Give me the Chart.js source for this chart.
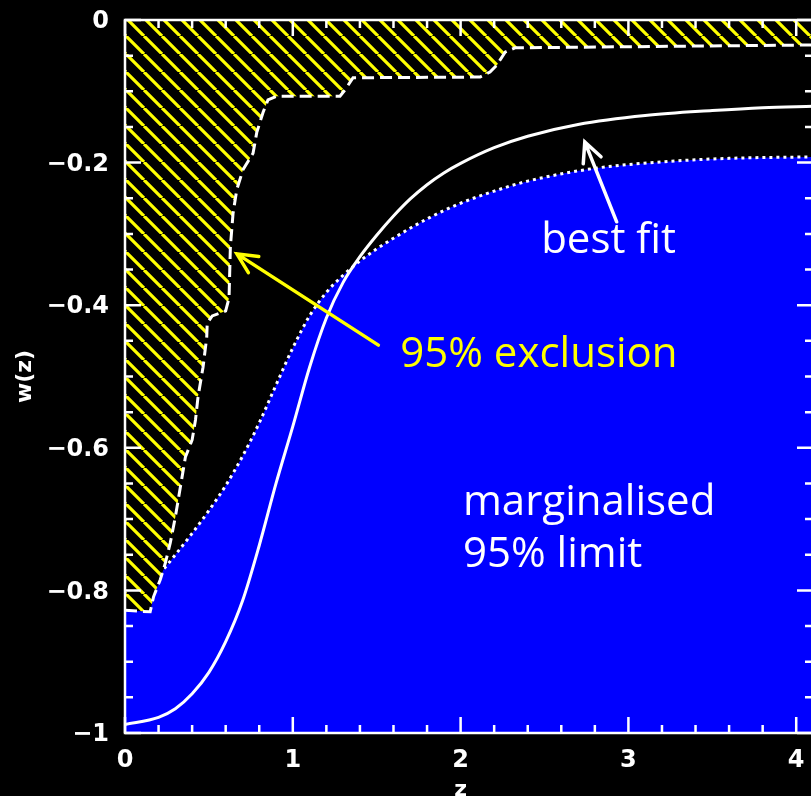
<!DOCTYPE html>
<html>
<head>
  <title>w(z)</title>
  <script src="https://cdn.jsdelivr.net/npm/chart.js@4.4.1/dist/chart.umd.min.js"></script>
  <style>
    html, body { margin: 0; padding: 0; background: #000; overflow: hidden; }
  </style>
</head>
<body>
  <canvas id="wz" width="813" height="796"></canvas>
  <script>
    // best fit w(z), solid white
    const fitZ = [0, 0.2, 0.3, 0.4, 0.5, 0.6, 0.7, 0.8, 0.9, 1.0, 1.1, 1.2, 1.3, 1.4, 1.5, 1.6, 1.7, 1.8, 1.9, 2.0, 2.2, 2.4, 2.7, 3.1, 3.5, 3.8, 4.1];
    const fitW = [-0.988, -0.978, -0.966, -0.945, -0.915, -0.872, -0.815, -0.737, -0.650, -0.570, -0.487, -0.418, -0.368, -0.332, -0.302, -0.275, -0.251, -0.231, -0.2145, -0.201, -0.179, -0.163, -0.1465, -0.134, -0.127, -0.123, -0.121];

    // marginalised 95% limit, dotted, blue below
    const margZ = [0, 0.1, 0.2, 0.3, 0.4, 0.5, 0.6, 0.7, 0.8, 0.9, 1.0, 1.1, 1.2, 1.3, 1.4, 1.5, 1.6, 1.8, 2.0, 2.2, 2.4, 2.8, 3.2, 3.6, 4.1];
    const margW = [-0.825, -0.805, -0.779, -0.750, -0.720, -0.688, -0.653, -0.612, -0.565, -0.512, -0.460, -0.415, -0.382, -0.358, -0.338, -0.321, -0.306, -0.279, -0.257, -0.240, -0.226, -0.208, -0.199, -0.194, -0.192];

    // 95% exclusion, dashed, hatched above
    const exclZ = [0, 0.15, 0.17, 0.21, 0.24, 0.27, 0.30, 0.33, 0.36, 0.40, 0.42, 0.435, 0.465, 0.487, 0.49, 0.52, 0.60, 0.62, 0.628, 0.644, 0.666, 0.703, 0.763, 0.785, 0.822, 0.852, 0.904, 1.281, 1.311, 1.359, 2.116, 2.175, 2.217, 2.265, 2.324, 4.1];
    const exclW = [-0.828, -0.830, -0.809, -0.785, -0.762, -0.733, -0.697, -0.655, -0.613, -0.589, -0.561, -0.529, -0.487, -0.445, -0.425, -0.415, -0.408, -0.390, -0.318, -0.271, -0.238, -0.210, -0.187, -0.158, -0.130, -0.112, -0.107, -0.107, -0.098, -0.081, -0.080, -0.073, -0.063, -0.045, -0.039, -0.035];

    const xTicks = [0, 1, 2, 3, 4];
    const xTickLabels = ['0', '1', '2', '3', '4'];
    const yTicks = [0, -0.2, -0.4, -0.6, -0.8, -1];
    const yTickLabels = ['0', '\u22120.2', '\u22120.4', '\u22120.6', '\u22120.8', '\u22121'];
    const xMinorStep = 0.2;
    const yMinorStep = 0.05;

    // text notes and arrows, in data units
    const notes = [
      { text: 'best fit', z: 2.48, w: -0.327, color: '#ffffff' },
      { text: '95% exclusion', z: 1.64, w: -0.487, color: '#ffff00' },
      { text: 'marginalised', z: 2.014, w: -0.694, color: '#ffffff' },
      { text: '95% limit', z: 2.014, w: -0.767, color: '#ffffff' },
    ];
    const arrows = [
      { from: [2.93, -0.283], to: [2.74, -0.171], color: '#ffffff' },
      { from: [1.51, -0.456], to: [0.667, -0.328], color: '#ffff00' },
    ];

    function pts(xs, ys) {
      return xs.map((x, i) => ({ x: x, y: ys[i] }));
    }

    function hatchPattern() {
      const d = 18;
      const c = document.createElement('canvas');
      c.width = d;
      c.height = d;
      const g = c.getContext('2d');
      g.fillStyle = '#000000';
      g.fillRect(0, 0, d, d);
      g.strokeStyle = '#ffff00';
      g.lineWidth = 3.2;
      g.beginPath();
      for (const o of [-d, 0, d]) {
        g.moveTo(o, 0);
        g.lineTo(o + d, d);
      }
      g.stroke();
      return g.createPattern(c, 'repeat');
    }

    const framePlugin = {
      id: 'frame',
      afterDatasetsDraw(chart) {
        const ctx = chart.ctx;
        const a = chart.chartArea;
        const xs = chart.scales.x;
        const ys = chart.scales.y;
        ctx.save();

        // ticks inside the box, all four sides
        ctx.strokeStyle = '#ffffff';
        ctx.lineWidth = 2.5;
        ctx.beginPath();
        for (let v = xs.min; v <= xs.max + 1e-9; v += xMinorStep) {
          const px = xs.getPixelForValue(v);
          const major = Math.abs(v - Math.round(v)) < 1e-6;
          const len = major ? 16 : 8;
          ctx.moveTo(px, a.bottom); ctx.lineTo(px, a.bottom - len);
          ctx.moveTo(px, a.top); ctx.lineTo(px, a.top + len);
        }
        for (let v = ys.min; v <= ys.max + 1e-9; v += yMinorStep) {
          const py = ys.getPixelForValue(v);
          const major = Math.abs(v / 0.2 - Math.round(v / 0.2)) < 1e-6;
          const len = major ? 16 : 8;
          ctx.moveTo(a.left, py); ctx.lineTo(a.left + len, py);
          ctx.moveTo(a.right, py); ctx.lineTo(a.right - len, py);
        }
        ctx.stroke();
        ctx.strokeRect(a.left, a.top, a.right - a.left, a.bottom - a.top);

        // tick labels
        ctx.fillStyle = '#ffffff';
        ctx.font = 'bold 24px "DejaVu Sans"';
        ctx.textAlign = 'right';
        ctx.textBaseline = 'middle';
        yTicks.forEach((v, i) => {
          ctx.fillText(yTickLabels[i], a.left - 16, ys.getPixelForValue(v) + 2);
        });
        ctx.textAlign = 'center';
        ctx.textBaseline = 'top';
        xTicks.forEach((v, i) => {
          ctx.fillText(xTickLabels[i], xs.getPixelForValue(v), a.bottom + 16);
        });

        // axis titles
        ctx.font = 'bold 22px "DejaVu Sans"';
        ctx.textBaseline = 'middle';
        ctx.fillText('z', xs.getPixelForValue(2), 790);
        ctx.save();
        ctx.translate(25, (a.top + a.bottom) / 2);
        ctx.rotate(-Math.PI / 2);
        ctx.fillText('w(z)', 0, 0);
        ctx.restore();

        // arrows
        ctx.lineWidth = 3.5;
        ctx.lineCap = 'round';
        arrows.forEach(ar => {
          const x0 = xs.getPixelForValue(ar.from[0]), y0 = ys.getPixelForValue(ar.from[1]);
          const x1 = xs.getPixelForValue(ar.to[0]), y1 = ys.getPixelForValue(ar.to[1]);
          const ang = Math.atan2(y0 - y1, x0 - x1);
          const hl = 22, spread = 0.45;
          ctx.strokeStyle = ar.color;
          ctx.beginPath();
          ctx.moveTo(x0, y0); ctx.lineTo(x1, y1);
          ctx.moveTo(x1 + hl * Math.cos(ang - spread), y1 + hl * Math.sin(ang - spread));
          ctx.lineTo(x1, y1);
          ctx.lineTo(x1 + hl * Math.cos(ang + spread), y1 + hl * Math.sin(ang + spread));
          ctx.stroke();
        });

        // notes
        ctx.font = '42px "Comic Sans MS", "Open Sans"';
        ctx.textAlign = 'left';
        ctx.textBaseline = 'alphabetic';
        notes.forEach(n => {
          ctx.fillStyle = n.color;
          ctx.fillText(n.text, xs.getPixelForValue(n.z), ys.getPixelForValue(n.w));
        });

        ctx.restore();
      }
    };

    new Chart(document.getElementById('wz'), {
      type: 'line',
      data: {
        datasets: [
          {
            label: 'best fit',
            data: pts(fitZ, fitW),
            borderColor: '#ffffff',
            borderWidth: 3,
            pointRadius: 0,
            cubicInterpolationMode: 'monotone',
            fill: false,
            order: 0
          },
          {
            label: '95% exclusion',
            data: pts(exclZ, exclW),
            borderColor: '#ffffff',
            borderWidth: 3,
            borderDash: [12, 6],
            pointRadius: 0,
            tension: 0,
            fill: 'end',
            backgroundColor: hatchPattern(),
            order: 1
          },
          {
            label: 'marginalised 95% limit',
            data: pts(margZ, margW),
            borderColor: '#ffffff',
            borderWidth: 3,
            borderDash: [3, 4],
            pointRadius: 0,
            cubicInterpolationMode: 'monotone',
            fill: 'start',
            backgroundColor: '#0000ff',
            order: 2
          }
        ]
      },
      options: {
        responsive: false,
        animation: false,
        layout: { padding: { left: 125, top: 20, right: 0, bottom: 63 } },
        scales: {
          x: { type: 'linear', min: 0, max: 4.1, display: false },
          y: { type: 'linear', min: -1, max: 0, display: false }
        },
        plugins: {
          legend: { display: false },
          tooltip: { enabled: false }
        }
      },
      plugins: [framePlugin]
    });
  </script>
</body>
</html>
